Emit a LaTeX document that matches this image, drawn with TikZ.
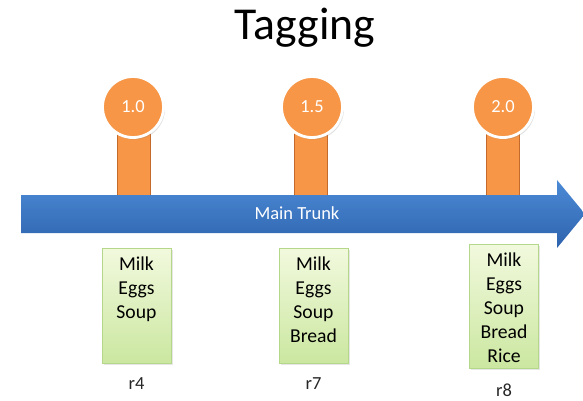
\documentclass[tikz,border=0pt]{standalone}
\usepackage{fontspec}
\setmainfont{Carlito}
\usetikzlibrary{positioning,shadows}
\definecolor{tagorange}{HTML}{F79646}
\definecolor{stemedge}{HTML}{C46A2C}
\definecolor{trunktop}{HTML}{4C8AD6}
\definecolor{trunkbot}{HTML}{2E63AD}
\definecolor{boxtop}{HTML}{F2F9DE}
\definecolor{boxbot}{HTML}{CBE7A0}
\definecolor{boxedge}{HTML}{B5D789}
\newcommand{\revlist}[2]{\parbox[c][#1][t]{13mm}{\vspace*{1.8mm}\centering #2}}
\tikzset{
  all/.style  = {align=center},
  title/.style = {all, font=\fontsize{26}{30}\selectfont},
  tag/.style = {all, circle, fill=tagorange, draw=white, line width=1.6pt,
    minimum size=12.2mm, inner sep=0pt, text=white, font=\fontsize{10.5}{12}\selectfont,
    drop shadow={opacity=0.25, shadow xshift=0.3mm, shadow yshift=-0.4mm}},
  stem/.style = {rectangle, fill=tagorange, draw=stemedge, thin,
    minimum width=6.6mm, minimum height=14mm, inner sep=0pt},
  trunk/.style = {top color=trunktop, bottom color=trunkbot},
  trunklabel/.style = {all, text=white, font=\fontsize{10.5}{12}\selectfont},
  rev/.style = {all, rectangle, draw=boxedge, top color=boxtop, bottom color=boxbot,
    minimum width=13.8mm, inner sep=0pt, font=\fontsize{11.2}{13.6}\selectfont,
    drop shadow={opacity=0.2, shadow xshift=0.3mm, shadow yshift=-0.4mm}},
  revname/.style = {all, inner sep=0pt, text=black!85, font=\fontsize{10.5}{12}\selectfont}
}

\begin{document}
\begin{tikzpicture}[x=0.2mm, y=-0.2mm]
\useasboundingbox (0,0) rectangle (583,400);

% title
\node[title] (ttl) at (305,28) {Tagging};

% stems of the tags, behind the trunk
\node[stem] (s10) at (134,163) {};
\node[stem] (s15) at (311,163) {};
\node[stem] (s20) at (503,163) {};

% the main trunk
\coordinate (tail) at (21,214);
\coordinate (tip) at (585,214);
\path[trunk] ([yshift=-3.8mm]tail) -- ([xshift=-5.6mm,yshift=-3.8mm]tip)
  -- ([xshift=-5.6mm,yshift=-6.8mm]tip) -- (tip)
  -- ([xshift=-5.6mm,yshift=6.8mm]tip) -- ([xshift=-5.6mm,yshift=3.8mm]tip)
  -- ([yshift=3.8mm]tail) -- cycle;
\node[trunklabel] (main) at (297,213) {Main Trunk};

% the tags
\node[tag] (t10) at (133,107) {1.0};
\node[tag] (t15) at (312,107) {1.5};
\node[tag] (t20) at (503,107) {2.0};

% revisions
\node[rev] (r4box) at (136.5,305.5) {\revlist{23mm}{Milk\\Eggs\\Soup}};
\node[rev] (r7box) at (313.5,305.5) {\revlist{23mm}{Milk\\Eggs\\Soup\\Bread}};
\node[rev] (r8box) at (504,306) {\revlist{24.8mm}{Milk\\Eggs\\Soup\\Bread\\Rice}};

\node[revname, below=2.8mm of r4box] (r4) {r4};
\node[revname, below=2.8mm of r7box] (r7) {r7};
\node[revname, below=3mm of r8box] (r8) {r8};

\end{tikzpicture}
\end{document}
